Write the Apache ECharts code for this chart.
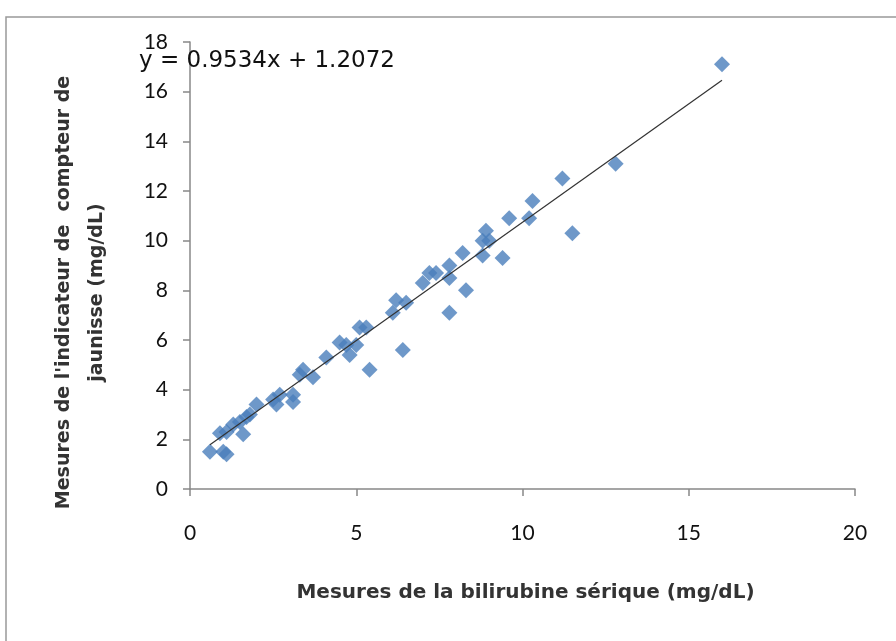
<!DOCTYPE html>
<html>
<head>
<meta charset="utf-8">
<script src="https://cdn.jsdelivr.net/npm/echarts@6/dist/echarts.min.js"></script>
<style>
  html, body { margin: 0; padding: 0; background: #fff; }
  #chart { width: 896px; height: 641px; }
</style>
</head>
<body>
<div id="chart"></div>
<script>
// bilirubine sérique (x) vs indicateur de jaunisse (y)
var bilirubine = [0.6, 1.0, 1.1, 0.9, 1.1, 1.3, 1.5, 1.6, 1.7, 1.8, 2.0, 2.5, 2.6, 2.7, 3.1, 3.1, 3.3, 3.4, 3.7,
  4.1, 4.5, 4.7, 4.8, 5.0, 5.1, 5.3, 5.4, 6.1, 6.2, 6.4, 6.5, 7.0, 7.2, 7.4, 7.8, 7.8, 7.8, 8.2, 8.3,
  8.8, 8.8, 8.9, 9.0, 9.4, 9.6, 10.2, 10.3, 11.2, 11.5, 12.8, 16.0];
var jaunisse = [1.5, 1.5, 1.4, 2.25, 2.3, 2.6, 2.7, 2.2, 2.9, 3.0, 3.4, 3.6, 3.4, 3.8, 3.8, 3.5, 4.6, 4.8, 4.5,
  5.3, 5.9, 5.8, 5.4, 5.8, 6.5, 6.5, 4.8, 7.1, 7.6, 5.6, 7.5, 8.3, 8.7, 8.7, 8.5, 9.0, 7.1, 9.5, 8.0,
  9.4, 10.0, 10.4, 10.0, 9.3, 10.9, 10.9, 11.6, 12.5, 10.3, 13.1, 17.1];
var pente = 0.9534;
var origine = 1.2072;
var xTicks = [0, 5, 10, 15, 20];
var yTicks = [0, 2, 4, 6, 8, 10, 12, 14, 16, 18];

var points = bilirubine.map(function (x, i) { return [x, jaunisse[i]]; });
var xMin = Math.min.apply(null, bilirubine);
var xMax = Math.max.apply(null, bilirubine);
var tendance = [[xMin, pente * xMin + origine], [xMax, pente * xMax + origine]];

var police = "Lato, 'Open Sans', sans-serif";
var policeTitre = "'DejaVu Sans', sans-serif";
var chart = echarts.init(document.getElementById('chart'));
chart.setOption({
  backgroundColor: '#fff',
  animation: false,
  grid: { left: 190, right: 41, top: 42, bottom: 152 },
  xAxis: {
    type: 'value',
    min: xTicks[0], max: xTicks[xTicks.length - 1], interval: 5,
    splitLine: { show: false },
    axisLine: { lineStyle: { color: '#888', width: 1.5 } },
    axisTick: { show: true, length: 7, lineStyle: { color: '#888', width: 1.5 } },
    axisLabel: { margin: 34, fontSize: 21, color: '#111', fontFamily: police },
    name: 'Mesures de la bilirubine sérique (mg/dL)',
    nameLocation: 'middle', nameGap: 94,
    nameTextStyle: { fontSize: 20, fontWeight: 'bold', color: '#333', fontFamily: policeTitre, padding: [0, 0, 0, 6] }
  },
  yAxis: {
    type: 'value',
    min: yTicks[0], max: yTicks[yTicks.length - 1], interval: 2,
    splitLine: { show: false },
    axisLine: { show: true, lineStyle: { color: '#888', width: 1.5 } },
    axisTick: { show: true, length: 7, lineStyle: { color: '#888', width: 1.5 } },
    axisLabel: { margin: 22, fontSize: 21, color: '#111', fontFamily: police },
    name: "Mesures de l'indicateur de  compteur de\njaunisse (mg/dL)",
    nameLocation: 'middle', nameGap: 76,
    nameTextStyle: { fontSize: 19, fontWeight: 'bold', color: '#333', fontFamily: policeTitre, lineHeight: 33, padding: [0, 0, 0, -54] }
  },
  series: [
    {
      type: 'scatter',
      data: points,
      symbol: 'diamond',
      symbolSize: [16, 16],
      itemStyle: { color: '#4A7EBB' },
      z: 3
    },
    {
      type: 'line',
      data: tendance,
      showSymbol: false,
      symbol: 'none',
      lineStyle: { color: '#333', width: 1.2 },
      z: 4
    }
  ],
  graphic: [
    {
      type: 'rect',
      shape: { x: 6, y: 17, width: 900, height: 640 },
      style: { fill: 'none', stroke: '#999', lineWidth: 1.5 },
      silent: true
    },
    {
      type: 'text',
      left: 139, top: 50,
      style: {
        text: 'y = ' + pente + 'x + ' + origine,
        fontSize: 23, fill: '#111', fontFamily: policeTitre
      },
      z: 10
    }
  ]
});
</script>
</body>
</html>
